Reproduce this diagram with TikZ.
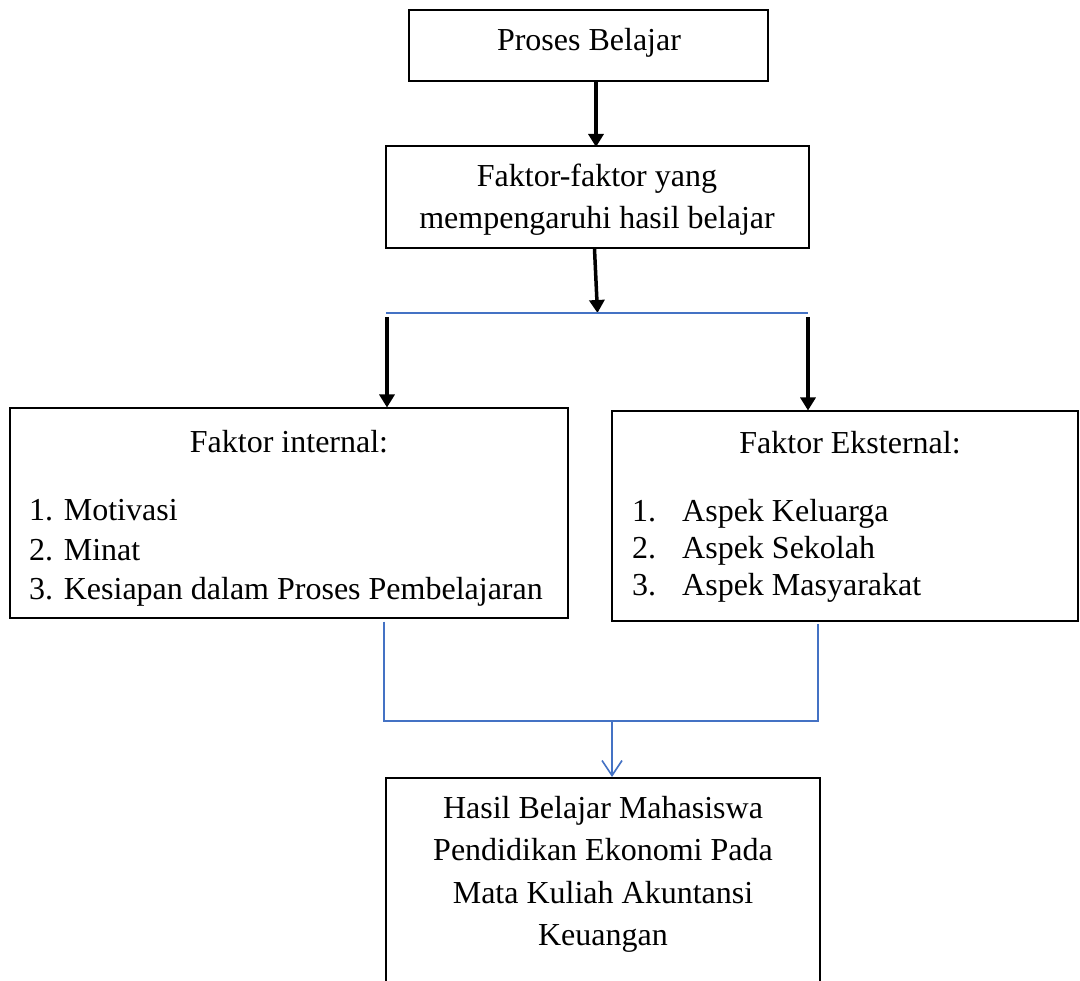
\documentclass[tikz,border=0pt]{standalone}
\usepackage{fontspec}
\setmainfont{Liberation Serif}
\usetikzlibrary{arrows.meta}
\definecolor{offblue}{RGB}{68,114,196}
\tikzset{
  box/.style={draw=black, line width=2pt, inner sep=0pt, fill=none},
  txt/.style={inner sep=0pt, font=\fontsize{32}{42}\selectfont},
  blk/.style={draw=black, line width=3.5pt, -{Triangle[width=15pt,length=13pt]}},
  bline/.style={draw=offblue, line width=1.6pt},
  barrow/.style={draw=offblue, line width=1.6pt, -{Straight Barb[width=20pt,length=15pt,line width=1.6pt]}}
}
\begin{document}
\begin{tikzpicture}[x=1pt,y=-1pt]
\useasboundingbox (0,0) rectangle (1080,981);
% boxes
\node[box, minimum width=359pt, minimum height=71pt] (proses) at (588.5,45.5) {};
\node[box, minimum width=423pt, minimum height=102pt] (faktor) at (597.5,197) {};
\node[box, minimum width=558pt, minimum height=209pt] (internal) at (289,513) {};
\node[box, minimum width=466pt, minimum height=209pt] (external) at (845,516) {};
\node[box, minimum width=434pt, minimum height=230pt] (hasil) at (603,893) {};
% texts
\node[txt, anchor=base] (tproses) at (589,51) {Proses Belajar};
\node[txt, anchor=base] (tf1) at (597,187) {Faktor-faktor yang};
\node[txt, anchor=base] (tf2) at (597,228.5) {mempengaruhi hasil belajar};
\node[txt, anchor=base] (ti0) at (289,453) {Faktor internal:};
\node[txt, anchor=base west] (ti1) at (29,521) {1. Motivasi};
\node[txt, anchor=base west] (ti2) at (29,561) {2. Minat};
\node[txt, anchor=base west] (ti3) at (29,600) {3. Kesiapan dalam Proses Pembelajaran};
\node[txt, anchor=base] (te0) at (850,454) {Faktor Eksternal:};
\node[txt, anchor=base west] (te1n) at (632,522) {1.};
\node[txt, anchor=base west] (te1) at (682,522) {Aspek Keluarga};
\node[txt, anchor=base west] (te2n) at (632,559) {2.};
\node[txt, anchor=base west] (te2) at (682,559) {Aspek Sekolah};
\node[txt, anchor=base west] (te3n) at (632,596) {3.};
\node[txt, anchor=base west] (te3) at (682,596) {Aspek Masyarakat};
\node[txt, anchor=base] (th1) at (603,818) {Hasil Belajar Mahasiswa};
\node[txt, anchor=base] (th2) at (603,860) {Pendidikan Ekonomi Pada};
\node[txt, anchor=base] (th3) at (603,903) {Mata Kuliah Akuntansi};
\node[txt, anchor=base] (th4) at (603,945) {Keuangan};
% coordinates
\coordinate (bl) at (386,313);
\coordinate (br) at (808,313);
\coordinate (jl) at (384,721);
\coordinate (jr) at (818,721);
\coordinate (jm) at (612,721);
% connectors
\draw[blk] (faktor.north |- proses.south) ++(-1.5,0) -- ++(0,65);
\draw[blk] ([xshift=-3pt]faktor.south) -- (faktor.south |- bl);
\draw[bline] (bl) -- (br);
\draw[blk] ([shift={(1pt,-4pt)}]bl) -- ([xshift=1pt]bl |- internal.north);
\draw[blk] ([yshift=-4pt]br) -- (br |- external.north);
\draw[bline] ([yshift=-3pt]internal.south -| jl) -- (jl) -- (jr) -- ([yshift=-2pt]external.south -| jr);
\draw[barrow] (jm) -- (jm |- hasil.north);
\end{tikzpicture}
\end{document}
